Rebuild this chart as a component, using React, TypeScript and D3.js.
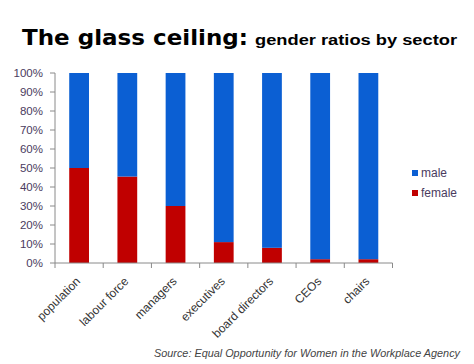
import React from "react";
import * as d3 from "d3";

const categories = ["population", "labour force", "managers", "executives", "board directors", "CEOs", "chairs"];
const female = [50, 45.5, 30, 11, 8, 2, 2];
const male = female.map((f) => 100 - f);
const yTicks = [0, 10, 20, 30, 40, 50, 60, 70, 80, 90, 100];
const seriesNames = ["male", "female"];
const colors = { male: "#0b5fd3", female: "#c00000" };

export default function App() {
  const W = 474, H = 364;
  const x = d3.scaleBand<string>().domain(categories).range([55, 392.5]).paddingInner(0.59).paddingOuter(0.295);
  const xTicksScale = d3.scaleLinear().domain([0, categories.length]).range([55, 392.5]);
  const y = d3.scaleLinear().domain([0, 100]).range([263, 73]);
  const font = "Liberation Sans, Arial, sans-serif";
  const rows = categories.map((c, i) => ({ c, female: female[i], male: male[i] }));
  const stack = d3.stack<any>().keys(["female", "male"])(rows);
  return (
    <div style={{ position: "absolute", left: 0, top: 0 }}>
      <svg width={W} height={H} style={{ display: "block", background: "#fff" }} fontFamily={font}>
        <text x={22} y={45} fontSize={22} fontWeight={900} fill="#000" textLength={226} lengthAdjust="spacingAndGlyphs" fontFamily="DejaVu Sans, sans-serif">The glass ceiling:</text>
        <text x={255} y={45} fontSize={14.5} fontWeight="bold" fill="#000" textLength={202} lengthAdjust="spacingAndGlyphs">gender ratios by sector</text>
        {stack.map((s) => (
          <g key={s.key}>
            {s.map((d: any, i: number) => (
              <rect key={i} x={x(categories[i])} width={x.bandwidth()} y={y(d[1])} height={y(d[0]) - y(d[1])} fill={(colors as any)[s.key]} />
            ))}
          </g>
        ))}
        <line x1={55} x2={55} y1={73} y2={263} stroke="#8a8a8a" />
        <line x1={55} x2={392.5} y1={263} y2={263} stroke="#8a8a8a" />
        {yTicks.map((t) => (
          <g key={t}>
            <line x1={50} x2={55} y1={y(t)} y2={y(t)} stroke="#8a8a8a" />
            <text x={43} y={y(t)} dy="0.35em" textAnchor="end" fontSize={11.5} fill="#4a3b5e">{t}%</text>
          </g>
        ))}
        {d3.range(categories.length + 1).map((i) => (
          <line key={i} x1={xTicksScale(i)} x2={xTicksScale(i)} y1={263} y2={268} stroke="#8a8a8a" />
        ))}
        {categories.map((c) => {
          const cx = (x(c) as number) + x.bandwidth() / 2;
          return (
            <text key={c} transform={`translate(${cx - 1},${279}) rotate(-45)`} textAnchor="end" fontSize={12} fill="#333" dy="0.35em">{c}</text>
          );
        })}
        {seriesNames.map((n, i) => (
          <g key={n}>
            <rect x={412} y={170 + i * 20} width={6} height={6} fill={(colors as any)[n]} />
            <text x={421} y={173 + i * 20} dy="0.35em" fontSize={12} fill="#4a3b5e">{n}</text>
          </g>
        ))}
        <text x={154} y={357} fontSize={10.5} fontStyle="italic" fill="#444" textLength={306} lengthAdjust="spacingAndGlyphs">Source: Equal Opportunity for Women in the Workplace Agency</text>
      </svg>
    </div>
  );
}
